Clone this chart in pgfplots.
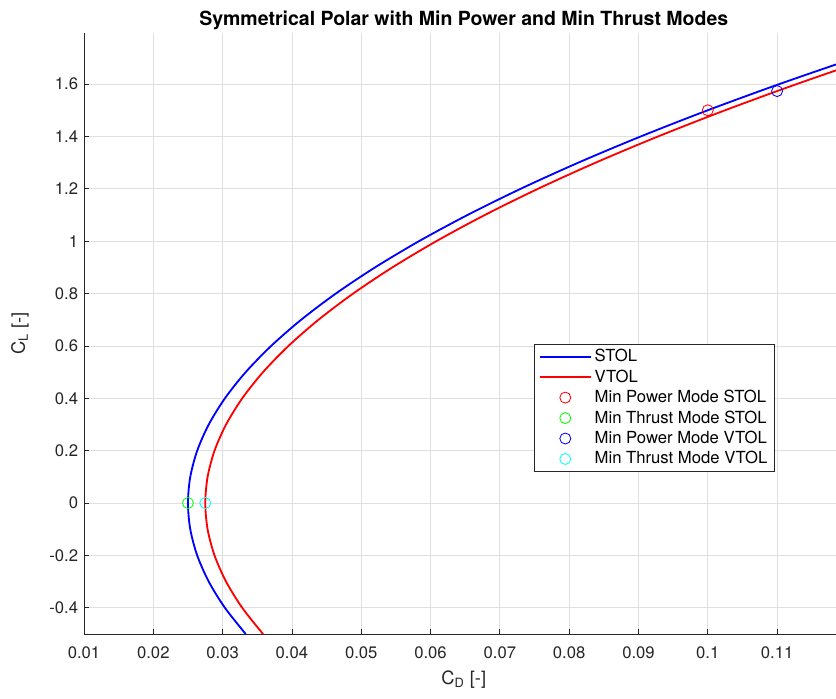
\documentclass[border=0pt]{standalone}
\usepackage{pgfplots}
\pgfplotsset{compat=1.18}
\usepackage{fontspec}
\setmainfont{TeX Gyre Heros}
\definecolor{axgray}{RGB}{38,38,38}
\definecolor{gridgray}{RGB}{223,223,223}
\definecolor{lnred}{RGB}{255,0,0}
\definecolor{lngreen}{RGB}{0,255,0}
\definecolor{lnblue}{RGB}{0,0,255}
\definecolor{lncyan}{RGB}{0,255,255}
\begin{document}
\begin{tikzpicture}
\begin{axis}[
  name=ax,
  scale only axis,
  width=451.2pt, height=360.6pt,
  xmin=0.01, xmax=0.1185,
  ymin=-0.5, ymax=1.795,
  axis x line*=bottom, axis y line*=left,
  axis line style={-, axgray, line width=0.5pt},
  xtick={0.01,0.02,0.03,0.04,0.05,0.06,0.07,0.08,0.09,0.1,0.11},
  ytick={-0.4,-0.2,0,0.2,0.4,0.6,0.8,1,1.2,1.4,1.6},
  scaled x ticks=false, scaled y ticks=false,
  xticklabel style={/pgf/number format/fixed, /pgf/number format/precision=2, yshift=-4pt},
  yticklabel style={/pgf/number format/fixed, /pgf/number format/precision=1},
  /pgf/number format/assume math mode=true,
  tick label style={font=\fontsize{10}{12}\selectfont, text=axgray},
  tick align=inside,
  major tick length=3pt,
  tick style={axgray, line width=0.5pt},
  grid=major,
  major grid style={gridgray, line width=0.5pt},
  every axis title/.style={at={(axis description cs:0.505,1.0216)}, anchor=center, font=\bfseries\fontsize{11.7}{14}\selectfont},
  title={Symmetrical Polar with Min Power and Min Thrust Modes},
  every axis x label/.style={at={(axis description cs:0.505,-0.0765)}, anchor=center, font=\fontsize{11}{13}\selectfont, text=axgray},
  every axis y label/.style={at={(axis description cs:-0.0851,0.5)}, anchor=center, rotate=90, font=\fontsize{11}{13}\selectfont, text=axgray},
  xlabel={C\textsubscript{D} [-]},
  ylabel={C\textsubscript{L} [-]},
  legend image code/.code={\draw[mark repeat=2,mark phase=2,#1] plot coordinates {(0pt,0pt)(15.3pt,0pt)(30.6pt,0pt)};},
  legend style={at={(axis cs:0.1097,0.609)}, anchor=north east, draw=axgray, line width=0.5pt, fill=white,
    font=\fontsize{10}{12}\selectfont, inner xsep=2.5pt, inner ysep=1.5pt,
    nodes={inner ysep=1.65pt, inner xsep=1.8pt}},
  legend cell align=left,
]
\addplot[color=lnblue, line width=1.1pt, smooth] coordinates {
(0.033333,-0.5) (0.030333,-0.4) (0.028,-0.3) (0.026333,-0.2) (0.025333,-0.1) (0.025,0)
(0.025333,0.1) (0.026333,0.2) (0.028,0.3) (0.030333,0.4) (0.033333,0.5) (0.037,0.6)
(0.041333,0.7) (0.046333,0.8) (0.052,0.9) (0.058333,1.0) (0.065333,1.1) (0.073,1.2)
(0.081333,1.3) (0.090333,1.4) (0.1,1.5) (0.110333,1.6) (0.121333,1.7) (0.133,1.8)};
\addlegendentry{STOL}
\addplot[color=lnred, line width=1.1pt, smooth] coordinates {
(0.035833,-0.5) (0.032833,-0.4) (0.0305,-0.3) (0.028833,-0.2) (0.027833,-0.1) (0.0275,0)
(0.027833,0.1) (0.028833,0.2) (0.0305,0.3) (0.032833,0.4) (0.035833,0.5) (0.0395,0.6)
(0.043833,0.7) (0.048833,0.8) (0.0545,0.9) (0.060833,1.0) (0.067833,1.1) (0.0755,1.2)
(0.083833,1.3) (0.092833,1.4) (0.1025,1.5) (0.112833,1.6) (0.123833,1.7) (0.1355,1.8)};
\addlegendentry{VTOL}
\addplot[only marks, mark=o, mark size=3.3pt, color=lnred, mark options={line width=0.5pt}] coordinates {(0.1,1.5)};
\addlegendentry{Min Power Mode STOL}
\addplot[only marks, mark=o, mark size=3.3pt, color=lngreen, mark options={line width=0.5pt}] coordinates {(0.025,0)};
\addlegendentry{Min Thrust Mode STOL}
\addplot[only marks, mark=o, mark size=3.3pt, color=lnblue, mark options={line width=0.5pt}] coordinates {(0.11,1.5732)};
\addlegendentry{Min Power Mode VTOL}
\addplot[only marks, mark=o, mark size=3.3pt, color=lncyan, mark options={line width=0.5pt}] coordinates {(0.0275,0)};
\addlegendentry{Min Thrust Mode VTOL}
\end{axis}
\pgfresetboundingbox
\path[use as bounding box] ([xshift=-50.4pt,yshift=-38.4pt]ax.south west) rectangle ([yshift=19.8pt]ax.north east);
\end{tikzpicture}
\end{document}
